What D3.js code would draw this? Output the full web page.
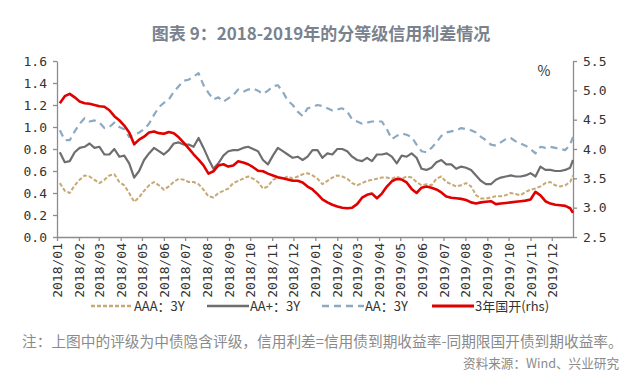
<!DOCTYPE html>
<html>
<head>
<meta charset="utf-8">
<script src="https://cdn.jsdelivr.net/npm/d3@7"></script>
<style>
  body { margin: 0; background: #fff; }
  svg text { font-family: "Noto Sans CJK SC", "Noto Sans", sans-serif; }
  .tick-label { font-family: "DejaVu Sans Mono", monospace !important; }
</style>
</head>
<body>
<div id="chart"></div>
<script>

// weekly observations (Fridays) plus the last trading day
var dates = d3.timeFriday.range(new Date(2018, 0, 1), new Date(2020, 0, 1))
  .concat([new Date(2019, 11, 31)]);

var aaa = [0.49,0.42,0.40,0.47,0.52,0.56,0.55,0.52,0.49,0.52, 0.56,0.57,0.50,0.47,0.40,0.32,0.36,0.42,0.47,0.50,
  0.47,0.43,0.46,0.50,0.53,0.52,0.50,0.50,0.48,0.43, 0.37,0.36,0.40,0.42,0.44,0.49,0.51,0.53,0.55,0.53,
  0.50,0.44,0.46,0.52,0.54,0.53,0.55,0.53,0.55,0.57, 0.58,0.56,0.53,0.48,0.51,0.54,0.56,0.55,0.53,0.49,
  0.47,0.49,0.51,0.52,0.53,0.54,0.54,0.53,0.55,0.53, 0.55,0.54,0.50,0.47,0.48,0.47,0.53,0.55,0.50,0.48,
  0.46,0.47,0.49,0.46,0.38,0.35,0.35,0.36,0.37,0.37, 0.38,0.40,0.39,0.38,0.41,0.43,0.44,0.46,0.49,0.50,
  0.47,0.46,0.47,0.50,0.56];

var aaPlus = [0.77,0.68,0.69,0.77,0.81,0.82,0.85,0.81,0.82,0.75, 0.75,0.80,0.73,0.74,0.67,0.54,0.60,0.70,0.76,0.81,
  0.78,0.75,0.79,0.85,0.86,0.84,0.84,0.82,0.90,0.81, 0.71,0.62,0.67,0.74,0.78,0.79,0.79,0.81,0.82,0.80,
  0.78,0.70,0.66,0.74,0.81,0.78,0.75,0.72,0.73,0.70, 0.73,0.79,0.79,0.72,0.76,0.75,0.80,0.80,0.78,0.73,
  0.70,0.69,0.72,0.69,0.75,0.75,0.76,0.73,0.67,0.74, 0.73,0.76,0.72,0.62,0.61,0.63,0.68,0.70,0.66,0.66,
  0.62,0.64,0.63,0.61,0.56,0.51,0.48,0.48,0.52,0.54, 0.55,0.56,0.55,0.55,0.56,0.58,0.55,0.64,0.61,0.61,
  0.60,0.60,0.61,0.63,0.70];

var aa = [0.97,0.88,0.88,0.96,1.03,1.08,1.05,1.06,1.04,0.99, 1.00,1.04,1.00,0.98,0.91,0.93,0.95,0.98,1.03,1.11,
  1.18,1.22,1.25,1.32,1.37,1.42,1.43,1.46,1.49,1.38, 1.31,1.25,1.27,1.23,1.26,1.29,1.34,1.32,1.34,1.35,
  1.33,1.30,1.33,1.37,1.38,1.32,1.24,1.20,1.14,1.10, 1.17,1.18,1.20,1.19,1.17,1.15,1.16,1.17,1.14,1.07,
  1.05,1.03,1.04,1.05,1.05,1.05,0.98,0.89,0.92,0.94, 0.93,0.91,0.84,0.78,0.77,0.81,0.86,0.92,0.95,0.96,
  0.97,0.99,0.98,0.97,0.95,0.91,0.88,0.84,0.83,0.86, 0.89,0.90,0.87,0.85,0.83,0.80,0.76,0.82,0.81,0.82,
  0.81,0.80,0.79,0.84,0.91];

// 3Y CDB yield, right axis
var cdb3y = [4.78,4.90,4.94,4.88,4.81,4.78,4.77,4.75,4.73,4.72, 4.66,4.56,4.49,4.40,4.28,4.08,4.16,4.21,4.28,4.30,
  4.27,4.26,4.29,4.27,4.20,4.11,4.01,3.91,3.82,3.72, 3.58,3.62,3.72,3.74,3.70,3.72,3.79,3.77,3.74,3.69,
  3.63,3.62,3.58,3.55,3.52,3.50,3.48,3.46,3.46,3.43, 3.36,3.31,3.23,3.14,3.09,3.05,3.02,3.00,2.99,3.00,
  3.06,3.17,3.22,3.24,3.16,3.24,3.36,3.45,3.49,3.48, 3.43,3.32,3.25,3.34,3.36,3.34,3.31,3.26,3.19,3.17,
  3.16,3.15,3.13,3.09,3.07,3.09,3.10,3.11,3.06,3.07, 3.08,3.09,3.10,3.11,3.12,3.14,3.27,3.21,3.11,3.07,
  3.05,3.04,3.03,2.99,2.91];

var leftTicks = [0, 0.2, 0.4, 0.6, 0.8, 1.0, 1.2, 1.4, 1.6];
var rightTicks = [2.5, 3.0, 3.5, 4.0, 4.5, 5.0, 5.5];
var monthTicks = d3.timeMonth.range(new Date(2018, 0, 1), new Date(2020, 0, 1));

var seriesNames = ['AAA：3Y', 'AA+：3Y', 'AA：3Y', '3年国开(rhs)'];

var title = '图表 9：2018-2019年的分等级信用利差情况';
var note = '注：上图中的评级为中债隐含评级，信用利差=信用债到期收益率-同期限国开债到期收益率。';
var source = '资料来源：Wind、兴业研究';

var W = 640, H = 389;
var plot = { left: 57, right: 573, top: 61, bottom: 237 };

var series = [
  { name: seriesNames[0], values: aaa, side: 'left', color: '#c8a874', width: 2, dash: '4,2' },
  { name: seriesNames[1], values: aaPlus, side: 'left', color: '#6e6e6e', width: 2.2, dash: null },
  { name: seriesNames[2], values: aa, side: 'left', color: '#8ca9c2', width: 2.2, dash: '7,5' },
  { name: seriesNames[3], values: cdb3y, side: 'right', color: '#e00000', width: 2.6, dash: null }
];

var x = d3.scaleTime()
  .domain([new Date(2018, 0, 1), new Date(2019, 11, 31)])
  .range([plot.left, plot.right]);
var yL = d3.scaleLinear().domain([0, 1.6]).range([plot.bottom, plot.top]);
var yR = d3.scaleLinear().domain([2.5, 5.5]).range([plot.bottom, plot.top]);

var svg = d3.select('#chart').append('svg')
  .attr('width', W).attr('height', H);

svg.append('rect').attr('width', W).attr('height', H).attr('fill', '#fff');

svg.append('text')
  .attr('x', 321).attr('y', 40)
  .attr('text-anchor', 'middle')
  .attr('font-size', 17).attr('font-weight', 'bold')
  .attr('fill', '#7a828d')
  .text(title);

var axisColor = '#8c8c8c';
var labelColor = '#333';

function styleAxis(g) {
  g.selectAll('.domain').attr('stroke', axisColor).attr('stroke-width', 1.3);
  g.selectAll('.tick line').attr('stroke', axisColor).attr('stroke-width', 1.3);
  g.selectAll('.tick text')
    .attr('class', 'tick-label')
    .attr('fill', labelColor)
    .attr('font-size', 13);
}

// left axis
svg.append('g')
  .attr('transform', 'translate(' + plot.left + ',0)')
  .call(d3.axisLeft(yL).tickValues(leftTicks).tickFormat(d3.format('.1f')).tickSize(4).tickSizeOuter(0).tickPadding(6))
  .call(styleAxis);

// right axis
svg.append('g')
  .attr('transform', 'translate(' + plot.right + ',0)')
  .call(d3.axisRight(yR).tickValues(rightTicks).tickFormat(d3.format('.1f')).tickSize(4).tickSizeOuter(0).tickPadding(6))
  .call(styleAxis);

// bottom axis
var xg = svg.append('g')
  .attr('transform', 'translate(0,' + plot.bottom + ')')
  .call(d3.axisBottom(x).tickValues(monthTicks).tickFormat(d3.timeFormat('%Y/%m')).tickSize(4).tickSizeOuter(0))
  .call(styleAxis);

xg.selectAll('.tick text')
  .attr('text-anchor', 'end')
  .attr('transform', 'rotate(-90)')
  .attr('x', -6).attr('y', 0).attr('dy', '0.35em');

svg.append('text')
  .attr('x', 544).attr('y', 76)
  .attr('text-anchor', 'middle')
  .attr('font-size', 14).attr('fill', labelColor)
  .text('%');

// lines
var lines = svg.append('g');
series.forEach(function(s) {
  var y = s.side === 'left' ? yL : yR;
  var line = d3.line()
    .x(function(d, i) { return x(dates[i]); })
    .y(function(d) { return y(d); });
  lines.append('path')
    .datum(s.values)
    .attr('fill', 'none')
    .attr('stroke', s.color)
    .attr('stroke-width', s.width)
    .attr('stroke-dasharray', s.dash)
    .attr('stroke-linejoin', 'round')
    .attr('d', line);
});

// legend
var legendX = [91, 207, 322, 432];
var legend = svg.append('g').attr('transform', 'translate(0,306)');
series.forEach(function(s, i) {
  var g = legend.append('g').attr('transform', 'translate(' + legendX[i] + ',0)');
  g.append('line')
    .attr('x1', 0).attr('x2', 42).attr('y1', 0).attr('y2', 0)
    .attr('stroke', s.color).attr('stroke-width', s.width + 0.3)
    .attr('stroke-dasharray', s.dash);
  g.append('text')
    .attr('x', 43).attr('y', 0).attr('dy', '0.36em')
    .attr('font-size', 13).attr('fill', labelColor)
    .text(s.name);
});

svg.append('text')
  .attr('x', 22).attr('y', 347)
  .attr('font-size', 14.7).attr('fill', '#8a8a8a')
  .text(note);

svg.append('text')
  .attr('x', 619).attr('y', 368)
  .attr('text-anchor', 'end')
  .attr('font-size', 12.6).attr('fill', '#8a8a8a')
  .text(source);

</script>
</body>
</html>
